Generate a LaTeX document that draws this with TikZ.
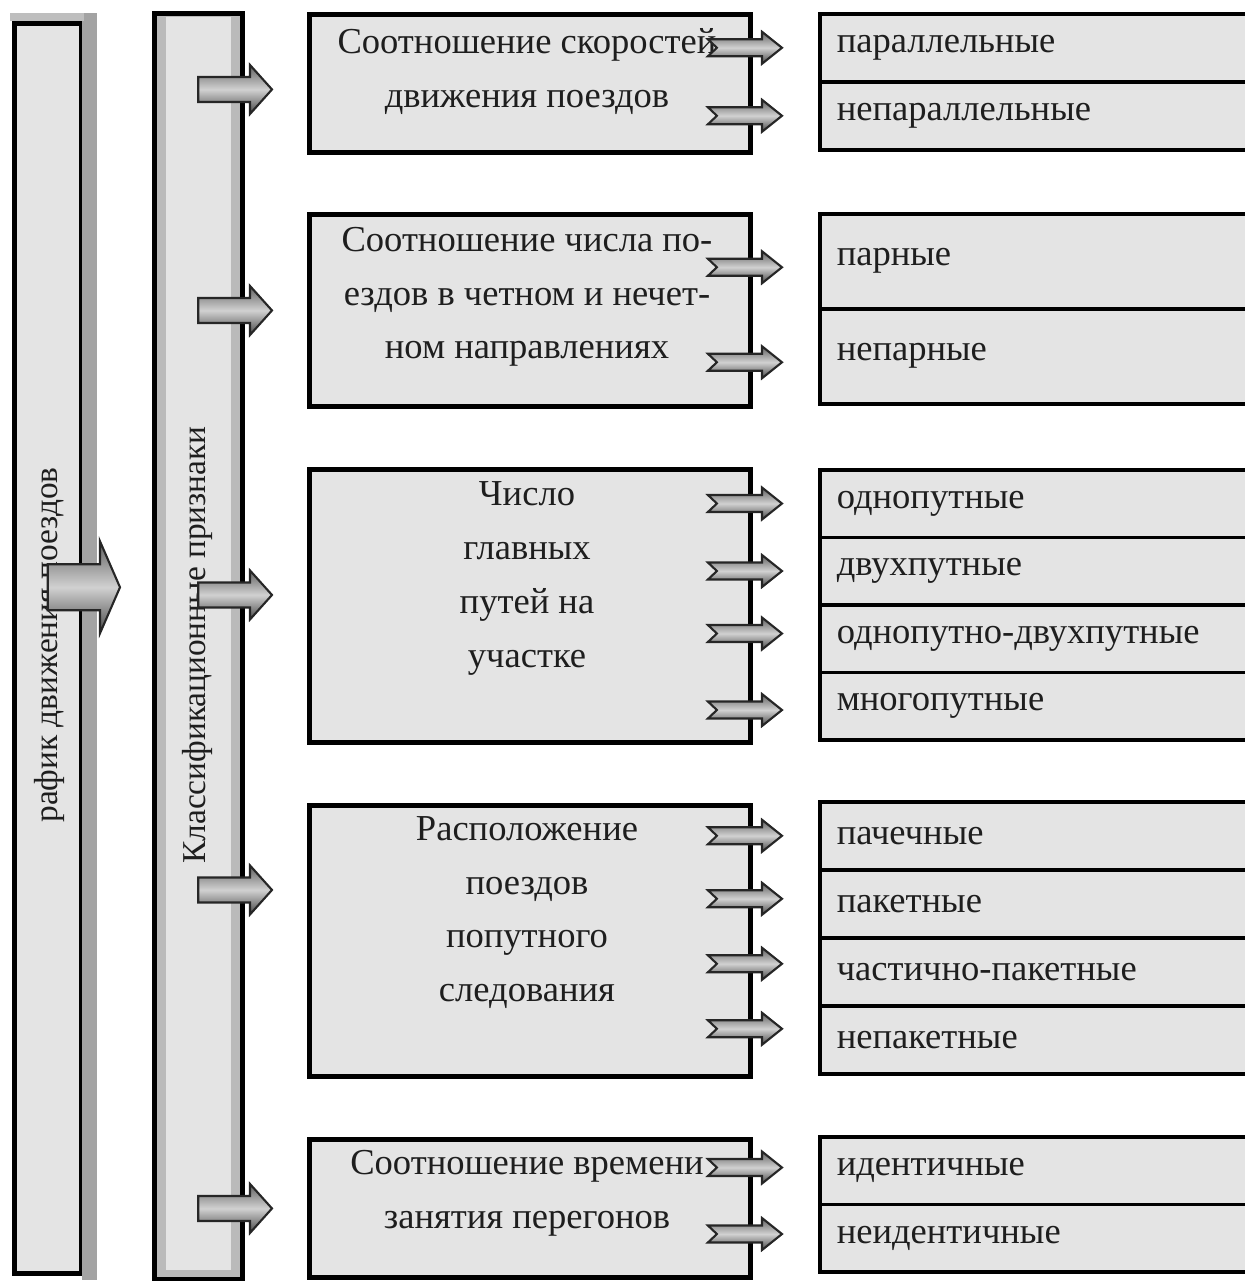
\documentclass[tikz,border=0pt]{standalone}
\usepackage{fontspec}
\setmainfont{Liberation Serif}
\usetikzlibrary{calc}
\definecolor{cFill}{HTML}{E4E4E4}
\definecolor{cShade}{HTML}{A3A3A3}
\definecolor{cInk}{HTML}{1E1E1E}

% block arrow: from, to, shaft half height, head half height, head length, notch
\newcommand{\blockarrow}[6]{%
  \shadedraw[arrowbody] let \p1=#1, \p2=#2 in
    (\x1,{\y1+#3}) -- ({\x2-#5},{\y1+#3}) -- ({\x2-#5},{\y1+#4}) -- (\x2,\y1)
    -- ({\x2-#5},{\y1-#4}) -- ({\x2-#5},{\y1-#3}) -- (\x1,{\y1-#3}) -- ({\x1+#6},\y1) -- cycle;}
\newcommand{\smallarrow}[2]{\blockarrow{#1}{#2}{0.85mm}{1.6mm}{2mm}{0.9mm}}
\newcommand{\midarrow}[2]{\blockarrow{#1}{#2}{1.25mm}{2.45mm}{2.2mm}{0mm}}

\begin{document}
\begin{tikzpicture}[
  font=\fontsize{10.4}{15.3}\selectfont,
  every node/.style={text=cInk},
  col/.style={draw=black, line width=1.3pt, fill=cFill, anchor=north west, inner sep=0pt},
  coltitle/.style={rotate=90, font=\fontsize{9.5}{11}\selectfont},
  mbox/.style={draw=black, line width=1.4pt, fill=cFill, anchor=north west,
               minimum width=4.41cm, inner sep=0pt},
  mtext/.style={align=center},
  row/.style={draw=black, line width=1pt, fill=cFill, anchor=north west,
              text width=3.98cm, inner xsep=0.17cm, inner ysep=0pt, align=left},
  arrowbody/.style={draw=black!85, line width=0.6pt, top color=black!62,
                    bottom color=black!72, middle color=black!18},
]
\clip[use as bounding box] (0,0) rectangle (12.45,-12.81);

% ---- left columns
\node[col, minimum width=0.67cm, minimum height=12.5cm] (col1) at (0.12,-0.21) {};
\fill[cShade] ($(col1.north east)+(-0.02,0.08)$) rectangle ($(col1.south east)+(0.13,-0.04)$);
\fill[cShade!70] ($(col1.north west)+(-0.02,0.08)$) rectangle ($(col1.north east)+(0,0)$);
\node[coltitle] (col1txt) at (0.49,-6.45) {рафик движения поездов};

\node[col, fill=cShade!75, minimum width=0.88cm, minimum height=12.66cm] (col2) at (1.52,-0.11) {};
\fill[cFill] ($(col2.north west)+(0.14,-0.06)$) rectangle ($(col2.south east)+(-0.14,0.12)$);
\node[coltitle] (col2txt) at (1.97,-6.45) {Классификационные признаки};

\blockarrow{($(col1.center)+(0,0.61)$)}{($(col2.west |- col1.center)+(-0.32,0.61)$)}{2.3mm}{4.6mm}{2mm}{0mm}

% ---- criteria boxes
\node[mbox, minimum height=1.38cm] (b1) at (3.07,-0.12) {};
\node[mbox, minimum height=1.92cm] (b2) at (3.07,-2.12) {};
\node[mbox, minimum height=2.73cm] (b3) at (3.07,-4.67) {};
\node[mbox, minimum height=2.71cm] (b4) at (3.07,-8.03) {};
\node[mbox, minimum height=1.38cm] (b5) at (3.07,-11.37) {};

\node[mtext] (t1) at (5.27,-0.715) {Соотношение скоростей\\движения поездов};
\node[mtext] (t2) at (5.27,-2.97) {Соотношение числа по-\\ездов в четном и нечет-\\ном направлениях};
\node[mtext] (t3) at (5.27,-5.785) {Число\\главных\\путей на\\участке};
\node[mtext] (t4) at (5.27,-9.125) {Расположение\\поездов\\попутного\\следования};
\node[mtext] (t5) at (5.27,-11.935) {Соотношение времени\\занятия перегонов};

\midarrow{($(col2.center |- b1.west)+(0,-0.06)$)}{($(b1.west)+(-0.35,-0.06)$)}
\midarrow{(col2.center |- b2.west)}{($(b2.west)+(-0.35,0)$)}
\midarrow{($(col2.center |- b3.west)+(0,0.11)$)}{($(b3.west)+(-0.35,0.11)$)}
\midarrow{($(col2.center |- b4.west)+(0,0.51)$)}{($(b4.west)+(-0.35,0.51)$)}
\midarrow{(col2.center |- b5.west)}{($(b5.west)+(-0.35,0)$)}

% ---- types
\node[row, minimum height=0.68cm] (r1a) at (8.18,-0.12) {параллельные};
\node[row, minimum height=0.68cm] (r1b) at (8.18,-0.80) {непараллельные};

\node[row, minimum height=0.95cm] (r2a) at (8.18,-2.12) {парные};
\node[row, minimum height=0.95cm] (r2b) at (8.18,-3.07) {непарные};

\node[row, minimum height=0.675cm] (r3a) at (8.18,-4.68) {однопутные};
\node[row, minimum height=0.675cm] (r3b) at (8.18,-5.355) {двухпутные};
\node[row, minimum height=0.675cm] (r3c) at (8.18,-6.03) {однопутно-двухпутные};
\node[row, minimum height=0.675cm] (r3d) at (8.18,-6.705) {многопутные};

\node[row, minimum height=0.68cm] (r4a) at (8.18,-8.00) {пачечные};
\node[row, minimum height=0.68cm] (r4b) at (8.18,-8.68) {пакетные};
\node[row, minimum height=0.68cm] (r4c) at (8.18,-9.36) {частично-пакетные};
\node[row, minimum height=0.68cm] (r4d) at (8.18,-10.04) {непакетные};

\node[row, minimum height=0.675cm] (r5a) at (8.18,-11.35) {идентичные};
\node[row, minimum height=0.675cm] (r5b) at (8.18,-12.025) {неидентичные};

\smallarrow{($(b1.east |- r1a.west)+(-0.45,0)$)}{($(r1a.west)+(-0.36,0)$)}
\smallarrow{($(b1.east |- r1b.west)+(-0.45,0)$)}{($(r1b.west)+(-0.36,0)$)}
\smallarrow{($(b2.east |- r2a.west)+(-0.45,-0.06)$)}{($(r2a.west)+(-0.36,-0.06)$)}
\smallarrow{($(b2.east |- r2b.west)+(-0.45,-0.06)$)}{($(r2b.west)+(-0.36,-0.06)$)}
\smallarrow{($(b3.east |- r3a.west)+(-0.45,0)$)}{($(r3a.west)+(-0.36,0)$)}
\smallarrow{($(b3.east |- r3b.west)+(-0.45,0)$)}{($(r3b.west)+(-0.36,0)$)}
\smallarrow{($(b3.east |- r3c.west)+(-0.45,0.05)$)}{($(r3c.west)+(-0.36,0.05)$)}
\smallarrow{($(b3.east |- r3d.west)+(-0.45,-0.04)$)}{($(r3d.west)+(-0.36,-0.04)$)}
\smallarrow{($(b4.east |- r4a.west)+(-0.45,0)$)}{($(r4a.west)+(-0.36,0)$)}
\smallarrow{($(b4.east |- r4b.west)+(-0.45,0.05)$)}{($(r4b.west)+(-0.36,0.05)$)}
\smallarrow{($(b4.east |- r4c.west)+(-0.45,0.08)$)}{($(r4c.west)+(-0.36,0.08)$)}
\smallarrow{($(b4.east |- r4d.west)+(-0.45,0.11)$)}{($(r4d.west)+(-0.36,0.11)$)}
\smallarrow{($(b5.east |- r5a.west)+(-0.45,0.03)$)}{($(r5a.west)+(-0.36,0.03)$)}
\smallarrow{($(b5.east |- r5b.west)+(-0.45,0.04)$)}{($(r5b.west)+(-0.36,0.04)$)}
\end{tikzpicture}
\end{document}
